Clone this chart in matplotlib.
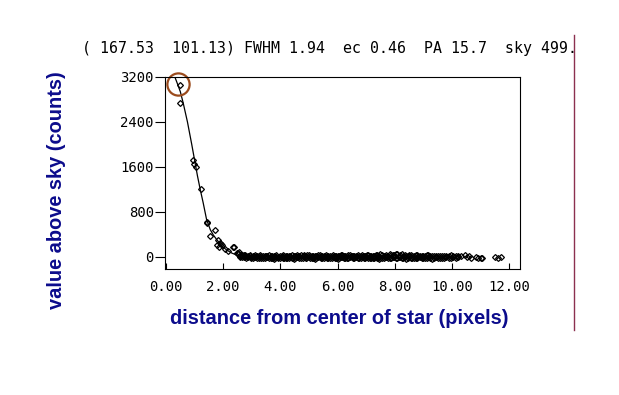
import matplotlib
matplotlib.use('Agg')
import matplotlib.pyplot as plt
from matplotlib.lines import Line2D

# radial profile of the star: fitted curve
prof_r = [0.31, 0.4, 0.5, 0.6, 0.75, 0.9, 1.0, 1.1, 1.2, 1.3, 1.42, 1.55, 1.65,
          1.78, 1.9, 2.0, 2.12, 2.3, 2.47, 2.7, 3.0, 3.5, 4.0]
prof_v = [3200, 3080, 2940, 2740, 2400, 2000, 1720, 1440, 1190, 960, 660, 480, 390,
          300, 230, 170, 120, 65, 30, 8, 2, 0, 0]

# pixel values near the core
core_r = [0.49, 0.49, 0.96, 0.99, 1.04, 1.21, 1.42, 1.45, 1.54, 1.71, 1.77, 1.83,
          1.86, 1.89, 1.91, 1.95, 2.05, 2.18, 2.33, 2.38, 2.47, 2.55, 2.65]
core_v = [3050, 2730, 1720, 1650, 1590, 1200, 620, 600, 370, 470, 210, 300,
          170, 240, 220, 200, 130, 110, 180, 165, 60, 90, 30]

# pixel values in the wings (two pixels per radius bin)
band_r = [2.52, 2.58, 2.61, 2.67, 2.72, 2.76, 2.81, 2.88, 2.93, 2.97,
          3.03, 3.08, 3.12, 3.17, 3.24, 3.29, 3.33, 3.38, 3.45, 3.49,
          3.54, 3.61, 3.66, 3.70, 3.77, 3.82, 3.86, 3.93, 3.98, 4.04,
          4.09, 4.13, 4.20, 4.24, 4.31, 4.35, 4.40, 4.46, 4.51, 4.57,
          4.62, 4.66, 4.73, 4.78, 4.82, 4.89, 4.94, 4.99, 5.05, 5.10,
          5.14, 5.21, 5.26, 5.30, 5.37, 5.42, 5.46, 5.53, 5.58, 5.63,
          5.68, 5.74, 5.79, 5.84, 5.90, 5.95, 6.01, 6.06, 6.11, 6.17,
          6.22, 6.27, 6.33, 6.38, 6.43, 6.49, 6.54, 6.59, 6.65, 6.70,
          6.75, 6.81, 6.86, 6.91, 6.97, 7.02, 7.07, 7.13, 7.18, 7.23,
          7.29, 7.34, 7.39, 7.45, 7.50, 7.55, 7.61, 7.66, 7.71, 7.77,
          7.82, 7.87, 7.93, 7.98, 8.03, 8.09, 8.14, 8.19, 8.25, 8.30,
          8.35, 8.41, 8.46, 8.51, 8.57, 8.62, 8.67, 8.73, 8.78, 8.83,
          8.89, 8.94, 8.99, 9.05, 9.12, 9.18, 9.24, 9.31, 9.37, 9.45,
          9.52, 9.58, 9.66, 9.73, 9.80, 9.88, 9.96, 10.05, 10.14, 10.22]
band_va = [45, 20, 35, -5, 25, 10, -15, 20, 5, -20,
           15, -10, 25, -25, 5, 30, -15, 10, -30, 20,
           -5, 25, -20, 10, -35, 15, 0, -25, 20, -10,
           30, -20, 5, -30, 15, -10, 25, -35, 10, -5,
           20, -25, 35, -15, 5, -30, 25, -10, 15, -20,
           10, -35, 20, -5, 30, -20, 5, -25, 25, -15,
           15, -30, 5, 25, -20, 10, -35, 20, -5, 30,
           -15, 10, -25, 35, -5, 20, -30, 15, -10, 25,
           -20, 5, 30, -25, 15, -10, 35, -15, 20, -30,
           10, -5, 25, -35, 40, -20, 15, -10, 35, -25,
           45, -15, 30, -5, 50, -30, 20, -10, 40, -20,
           25, -35, 15, 5, 35, -25, 10, -15, 30, -5,
           20, -30, 10, -20, 25, -10, 15, -35, 5, 20,
           -15, 10, -25, 5, 15, -20, 25, -10, 20, 10]
band_vb = [70, 0, 10, 30, -10, 35, 15, -5, 25, 0,
           -20, 20, -5, 10, -30, 0, 20, -15, 5, -10,
           20, -15, 5, -30, 10, -20, 30, -5, -15, 15,
           -25, 10, -15, 20, -30, 5, -20, 15, -25, 30,
           -10, 15, -20, 5, 25, -15, 0, 30, -25, 10,
           -20, 15, -30, 25, -10, 5, -25, 15, -5, 20,
           -25, 10, -15, 0, 20, -30, 10, -15, 25, -10,
           20, -25, 10, -15, 30, -5, 15, -20, 5, -30,
           15, -20, -5, 10, -30, 25, -15, 5, -20, 10,
           -25, 30, -15, 5, -20, 25, -30, 20, -5, 15,
           -20, 35, -10, 25, -15, 40, -5, 30, -25, 10,
           -10, 20, -25, 30, -15, 5, -30, 25, -20, 15,
           -5, 10, -25, 15, -15, 30, -20, 5, -30, 0,
           15, -20, 5, -25, -10, 10, -15, 5, -25, 0]

# the few outermost pixels
tail_r = [10.33, 10.45, 10.52, 10.60, 10.68, 10.85, 10.92, 11.00, 11.05, 11.52, 11.62, 11.70]
tail_v = [10, 30, 0, 15, -20, 0, -15, -30, -20, -10, -20, 0]

# marked peak
mark_r = 0.43
mark_v = 3070

xticks = [0, 2, 4, 6, 8, 10, 12]
yticks = [0, 800, 1600, 2400, 3200]
header = "( 167.53  101.13) FWHM 1.94  ec 0.46  PA 15.7  sky 499."

W, H = 619, 395
fig = plt.figure(figsize=(W / 100, H / 100), dpi=100)
ax = fig.add_axes([165 / W, 1 - 269 / H, (520 - 165) / W, (269 - 77) / H])

mk = dict(marker='D', markersize=3.0, markerfacecolor='none', markeredgecolor='black',
          markeredgewidth=0.9, linestyle='none')
ax.plot(core_r, core_v, **mk)
ax.plot(band_r, band_va, **mk)
ax.plot(band_r, band_vb, **mk)
ax.plot(tail_r, tail_v, **mk)
ax.plot(prof_r, prof_v, color='black', linewidth=0.9)

ax.plot([mark_r], [mark_v], marker='o', markersize=16, markerfacecolor='none',
        markeredgecolor='#9a4a1c', markeredgewidth=1.6, clip_on=False)

ax.set_xlim(-0.035, 12.38)
ax.set_ylim(-219, 3200)
ax.set_xticks(xticks)
ax.set_xticklabels(['%.2f' % t for t in xticks])
ax.set_yticks(yticks)
ax.set_yticklabels([str(t) for t in yticks])
ax.tick_params(axis='x', direction='in', length=4, width=0.8, pad=8)
ax.tick_params(axis='y', direction='out', length=7, width=0.8, pad=1)
for lab in ax.get_xticklabels() + ax.get_yticklabels():
    lab.set_family('DejaVu Sans Mono')
    lab.set_fontsize(10)
for s in ax.spines.values():
    s.set_linewidth(0.8)

fig.text(82 / W, 1 - 48 / H, header, family='DejaVu Sans Mono', fontsize=10.7,
         ha='left', va='center')
fig.text(57 / W, 1 - 190 / H, 'value above sky (counts)', family='Liberation Sans',
         fontweight='bold', fontsize=14.4, color='#0c0c8c', rotation=90,
         ha='center', va='center')
fig.text(339 / W, 1 - 318 / H, 'distance from center of star (pixels)',
         family='Liberation Sans', fontweight='bold', fontsize=14.4, color='#0c0c8c',
         ha='center', va='center')

fig.add_artist(Line2D([574 / W, 574 / W], [1 - 35 / H, 1 - 330 / H],
                      color='#8c3050', linewidth=1.0))

fig.savefig('out.png', dpi=100)
